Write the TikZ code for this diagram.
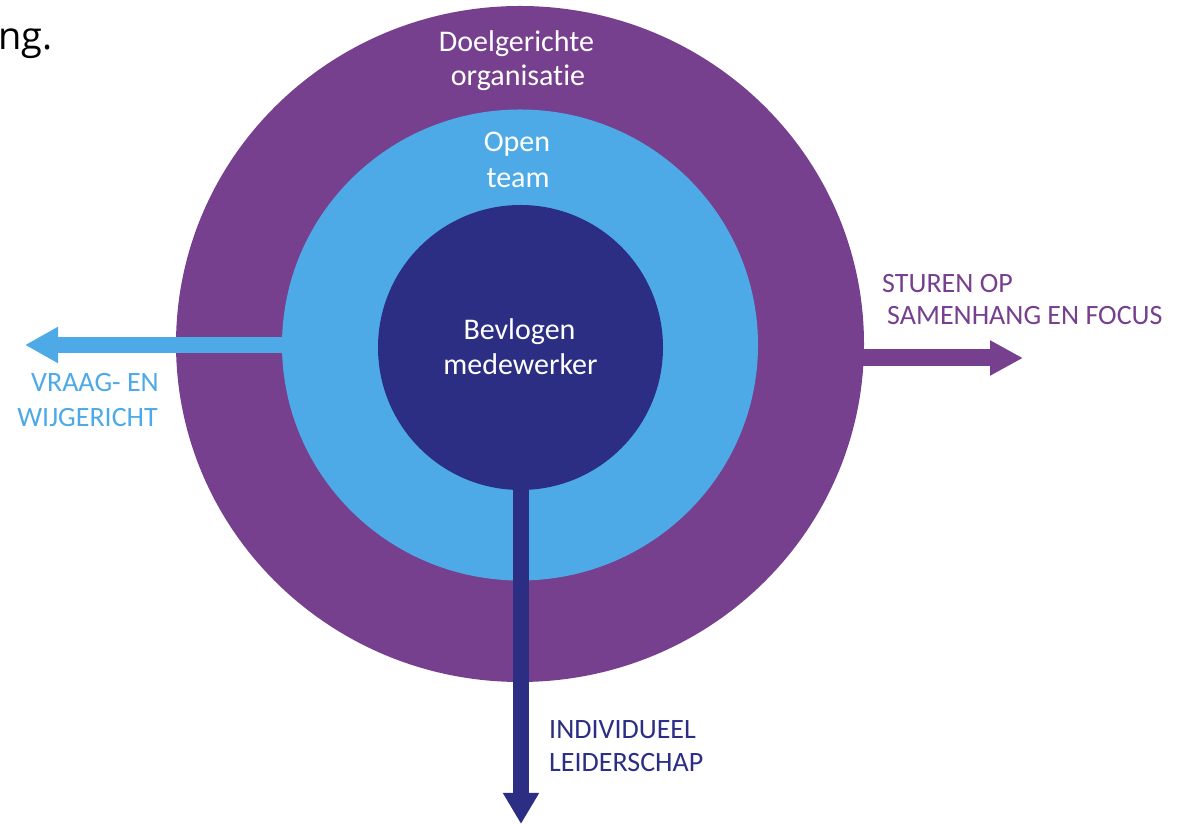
\documentclass[tikz,border=0pt]{standalone}
\usepackage{fontspec}
\setmainfont{Carlito}[Ligatures=NoCommon]
\newfontfamily\ngfont{Open Sans}
\usetikzlibrary{arrows.meta,shapes.geometric}
\definecolor{cpurple}{HTML}{76408F}
\definecolor{cblue}{HTML}{4DAAE6}
\definecolor{cnavy}{HTML}{2B2E83}
\tikzset{
  ring/.style={ellipse, inner sep=0pt, draw=none},
  inlabel/.style={anchor=base, inner sep=0pt, text=white, font=\fontsize{30}{35}\selectfont},
  sidelabel/.style={inner sep=0pt, font=\fontsize{28}{32}\selectfont},
  bigarrow/.style={line width=16pt},
}
\begin{document}
\begin{tikzpicture}[x=1pt,y=1pt]
\useasboundingbox (0,0) rectangle (1178,824);
% circles
\node[ring, fill=cpurple, minimum width=688pt, minimum height=676pt] (outer) at (520,480) {};
\node[ring, fill=cblue, minimum width=476pt, minimum height=471pt] (mid) at (520,479) {};
\node[ring, fill=cnavy, minimum width=285pt, minimum height=285pt] (inner) at (520.5,476.5) {};
% arrow coordinates
\coordinate (lstart) at (300,479);
\coordinate (ltip) at (25,479);
\coordinate (rstart) at (840,466);
\coordinate (rtip) at (1023,466);
\coordinate (dstart) at (521,362);
\coordinate (dtip) at (521,0);
\draw[bigarrow, cblue, -{Triangle[length=33pt,width=34pt]}] (lstart) -- (ltip);
\draw[bigarrow, cpurple, line width=17pt, -{Triangle[length=33pt,width=33pt]}] (rstart) -- (rtip);
\draw[bigarrow, cnavy, -{Triangle[length=31pt,width=34pt]}] (dstart) -- (dtip);
% inner labels
\node[inlabel] (d1) at (516.5,772) {Doelgerichte};
\node[inlabel] (d2) at (518,738) {organisatie};
\node[inlabel] (o1) at (517,672) {Open};
\node[inlabel] (o2) at (518,636) {team};
\node[inlabel] (b1) at (519.5,484) {Bevlogen};
\node[inlabel] (b2) at (520.5,449) {medewerker};
% side labels
\node[sidelabel, text=cblue, anchor=base east] (v1) at (159,432) {VRAAG- EN};
\node[sidelabel, text=cblue, anchor=base east] (v2) at (158,397) {WIJGERICHT};
\node[sidelabel, text=cpurple, anchor=base west] (s1) at (882,531) {STUREN OP};
\node[sidelabel, text=cpurple, anchor=base west] (s2) at (887,499) {SAMENHANG EN FOCUS};
\node[sidelabel, text=cnavy, anchor=base west] (i1) at (549,85) {INDIVIDUEEL};
\node[sidelabel, text=cnavy, anchor=base west] (i2) at (549,52) {LEIDERSCHAP};
% fragment of preceding text
\node[anchor=base west, inner sep=0pt, font=\ngfont\fontsize{38}{42}\selectfont] (frag) at (-2,774) {ng.};
\end{tikzpicture}
\end{document}
